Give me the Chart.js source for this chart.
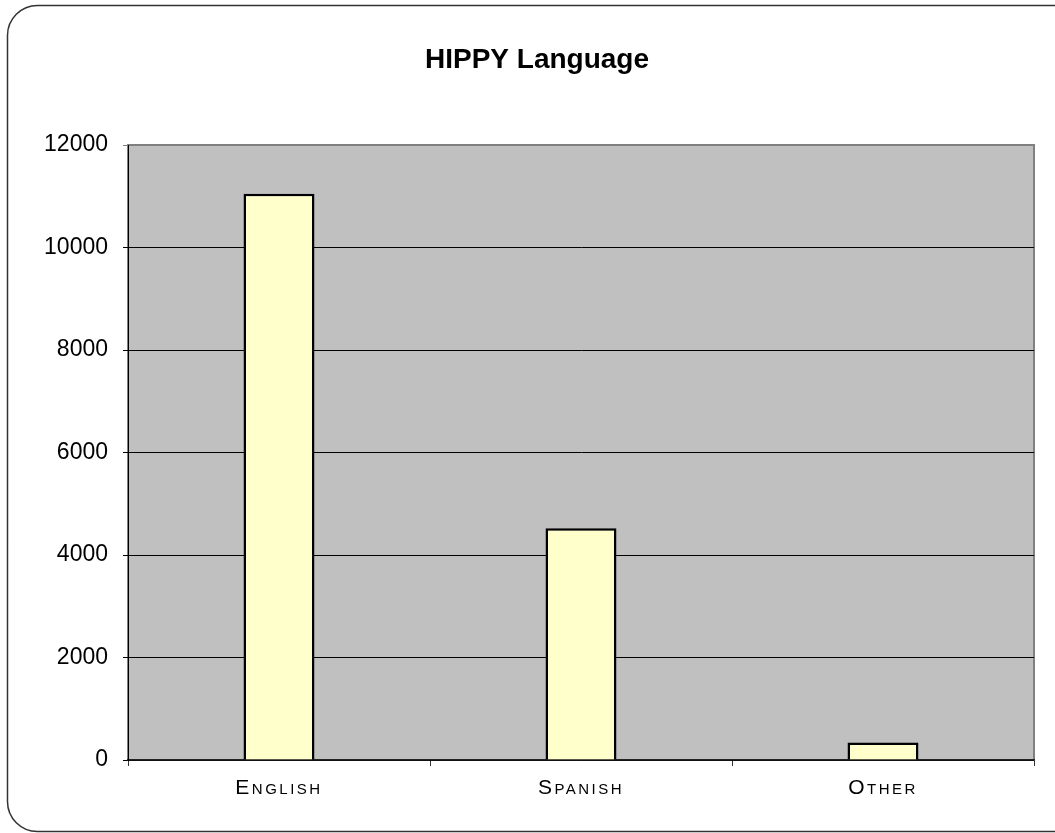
<!DOCTYPE html>
<html>
<head>
<meta charset="utf-8">
<script src="https://cdn.jsdelivr.net/npm/chart.js@4/dist/chart.umd.min.js"></script>
<style>
  html, body { margin: 0; padding: 0; background: #ffffff; }
  canvas { display: block; }
</style>
</head>
<body>
<canvas id="c" width="1055" height="833"></canvas>
<script>
const categories = ['English', 'Spanish', 'Other'];
const values = [11050, 4520, 340];
const yTicks = [0, 2000, 4000, 6000, 8000, 10000, 12000];
const chartTitle = 'HIPPY Language';

class SpacedCategory extends Chart.CategoryScale {
  drawLabels(area) {
    const ctx = this.ctx;
    const prev = ctx.letterSpacing;
    ctx.letterSpacing = '2.5px';
    super.drawLabels(area);
    ctx.letterSpacing = prev || '0px';
  }
}
SpacedCategory.id = 'spacedCategory';
SpacedCategory.defaults = Chart.CategoryScale.defaults;
Chart.register(SpacedCategory);

const frame = {
  id: 'frame',
  beforeDraw(chart) {
    const ctx = chart.ctx;
    const a = chart.chartArea;
    ctx.save();
    ctx.fillStyle = '#ffffff';
    ctx.fillRect(0, 0, chart.width, chart.height);
    ctx.strokeStyle = '#333333';
    ctx.lineWidth = 1.5;
    ctx.beginPath();
    ctx.roundRect(7.5, 5.5, 1075, 826, 30);
    ctx.stroke();
    ctx.fillStyle = '#C0C0C0';
    ctx.fillRect(a.left, a.top, a.right - a.left, a.bottom - a.top);
    ctx.strokeStyle = '#808080';
    ctx.lineWidth = 2;
    ctx.strokeRect(a.left, a.top, a.right - a.left, a.bottom - a.top);
    ctx.restore();
  }
};

new Chart(document.getElementById('c'), {
  type: 'bar',
  data: {
    labels: categories,
    datasets: [{
      data: values,
      backgroundColor: '#FFFFCC',
      borderColor: '#000000',
      borderWidth: 2.5,
      barPercentage: 0.235,
      categoryPercentage: 1
    }]
  },
  options: {
    responsive: false,
    animation: false,
    layout: { padding: { left: 40, right: 21, top: 0, bottom: 0 } },
    plugins: {
      legend: { display: false },
      tooltip: { enabled: false },
      title: {
        display: true,
        text: chartTitle,
        color: '#000000',
        font: { family: "'Liberation Sans', Arial", size: 28, weight: 'bold' },
        padding: { top: 43, bottom: 68.4 }
      }
    },
    scales: {
      x: {
        type: 'spacedCategory',
        grid: { display: true, offset: true, drawOnChartArea: false, drawTicks: true, tickLength: 6, color: '#333333' },
        border: { display: true, color: '#222222', width: 1.5 },
        ticks: {
          color: '#000000',
          padding: 10,
          font: { family: "'Liberation Sans', Arial", size: 21, weight: 'small-caps normal' }
        },
        afterFit(scale) { scale.height = 73; }
      },
      y: {
        min: 0,
        max: 12000,
        afterBuildTicks(scale) { scale.ticks = yTicks.map(v => ({ value: v })); },
        grid: {
          color: (c) => (c.tick && c.tick.value === 12000 ? '#808080' : '#000000'),
          lineWidth: 1,
          drawTicks: true,
          tickLength: 5
        },
        border: { display: true, color: '#000000', width: 1 },
        ticks: {
          color: '#000000',
          padding: 15,
          font: { family: "'Liberation Sans', Arial", size: 23 },
          callback: (v) => String(v)
        },
        afterFit(scale) { scale.width = 88; }
      }
    }
  },
  plugins: [frame]
});
</script>
</body>
</html>
